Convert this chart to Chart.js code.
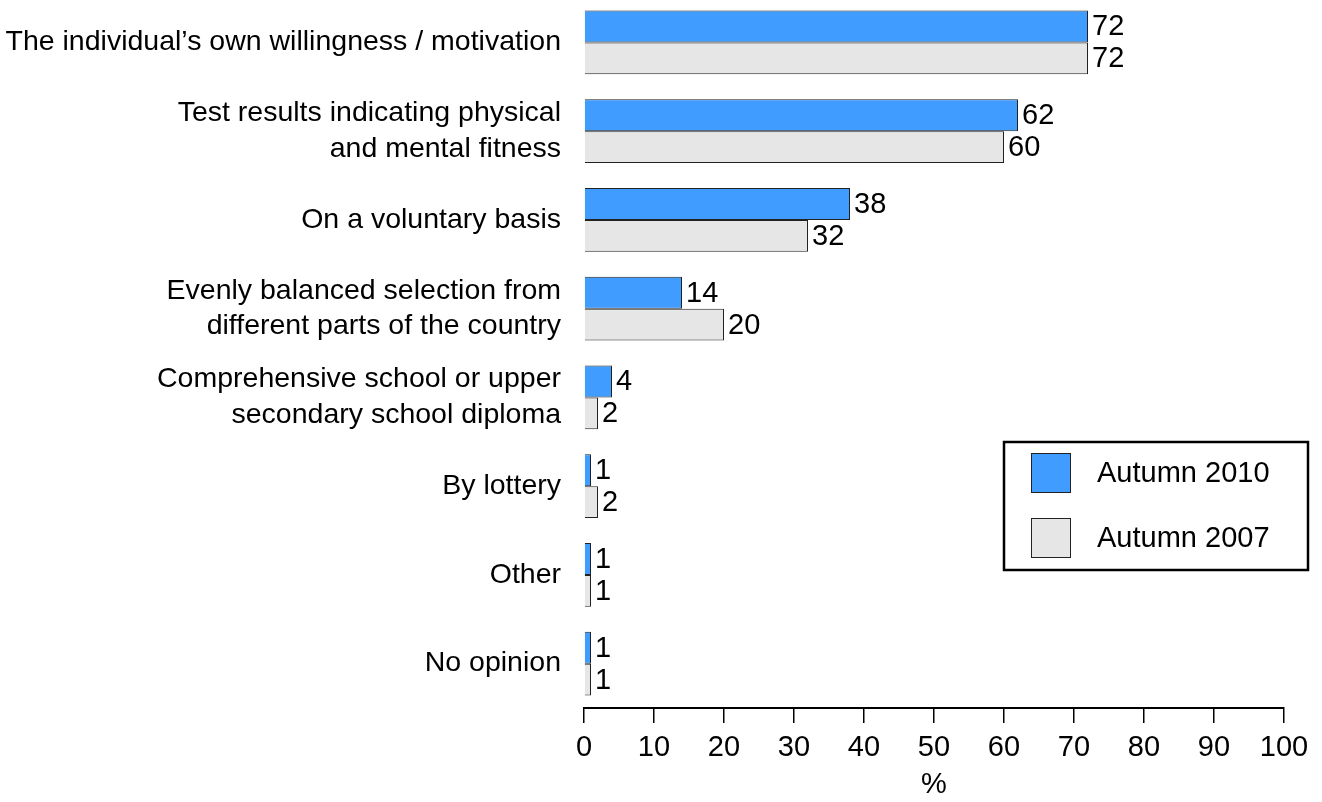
<!DOCTYPE html>
<html>
<head>
<meta charset="utf-8">
<script src="https://cdn.jsdelivr.net/npm/chart.js@4/dist/chart.umd.min.js"></script>
<style>
  html, body { margin: 0; padding: 0; background: #fff; overflow: hidden; }
  #wrap { position: absolute; left: 0; top: -2px; width: 1322px; height: 804px; }
</style>
</head>
<body>
<div id="wrap"><canvas id="chart"></canvas></div>
<script>
const categories = [
  'The individual\u2019s own willingness / motivation',
  ['Test results indicating physical', 'and mental fitness'],
  'On a voluntary basis',
  ['Evenly balanced selection from', 'different parts of the country'],
  ['Comprehensive school or upper', 'secondary school diploma'],
  'By lottery',
  'Other',
  'No opinion',
];
const autumn2010 = [72, 62, 38, 14, 4, 1, 1, 1];
const autumn2007 = [72, 60, 32, 20, 2, 2, 1, 1];
const seriesNames = ['Autumn 2010', 'Autumn 2007'];
const xTicks = { min: 0, max: 100, step: 10 };

const FONT = 'Liberation Sans, Arial, sans-serif';

const valueLabels = {
  id: 'valueLabels',
  afterDatasetsDraw(chart) {
    const ctx = chart.ctx;
    ctx.save();
    ctx.font = '29px ' + FONT;
    ctx.fillStyle = '#000';
    ctx.textAlign = 'left';
    ctx.textBaseline = 'middle';
    chart.data.datasets.forEach((ds, i) => {
      chart.getDatasetMeta(i).data.forEach((bar, j) => {
        ctx.fillText(String(ds.data[j]), bar.x + 4, bar.y + 1);
      });
    });
    ctx.restore();
  }
};

const boxLegend = {
  id: 'boxLegend',
  afterDraw(chart) {
    const ctx = chart.ctx;
    ctx.save();
    ctx.lineWidth = 2.5;
    ctx.strokeStyle = '#000';
    ctx.strokeRect(1004, 444, 304, 128);
    ctx.font = '29px ' + FONT;
    ctx.textAlign = 'left';
    ctx.textBaseline = 'middle';
    chart.data.datasets.forEach((ds, i) => {
      const y = 455 + i * 65;
      ctx.fillStyle = ds.backgroundColor;
      ctx.fillRect(1031, y, 40, 40);
      ctx.lineWidth = 1;
      ctx.strokeStyle = '#222';
      ctx.strokeRect(1031.5, y + 0.5, 39, 39);
      ctx.fillStyle = '#000';
      ctx.fillText(ds.label, 1097, y + 21);
    });
    ctx.restore();
  }
};

new Chart(document.getElementById('chart'), {
  type: 'bar',
  data: {
    labels: categories,
    datasets: [
      {
        label: seriesNames[0],
        data: autumn2010,
        backgroundColor: '#409dff',
        borderColor: '#222',
        borderWidth: 1,
      },
      {
        label: seriesNames[1],
        data: autumn2007,
        backgroundColor: '#e6e6e6',
        borderColor: '#222',
        borderWidth: 1,
      },
    ],
  },
  options: {
    indexAxis: 'y',
    responsive: true,
    maintainAspectRatio: false,
    devicePixelRatio: 1,
    animation: false,
    categoryPercentage: 0.72,
    barPercentage: 1,
    layout: { padding: { left: 0, right: 38, top: 0, bottom: 0 } },
    scales: {
      x: {
        min: xTicks.min,
        max: xTicks.max,
        afterFit: (s) => { s.height = 94; },
        grid: {
          drawOnChartArea: false,
          tickLength: 15,
          color: '#000',
          lineWidth: 1.5,
        },
        border: { display: true, color: '#000', width: 2 },
        ticks: {
          stepSize: xTicks.step,
          color: '#000',
          padding: 8,
          maxRotation: 0,
          font: { family: FONT, size: 29 },
        },
        title: {
          display: true,
          text: '%',
          color: '#000',
          padding: { top: 0, bottom: 0 },
          font: { family: FONT, size: 29 },
        },
      },
      y: {
        afterFit: (s) => { s.width = 584; s.paddingTop = 0; s.paddingBottom = 0; },
        grid: { display: false, drawTicks: false },
        border: { display: false },
        ticks: {
          color: '#000',
          padding: 23,
          font: { family: FONT, size: 28.5, lineHeight: 1.26 },
        },
      },
    },
    plugins: {
      legend: { display: false },
      tooltip: { enabled: false },
    },
  },
  plugins: [valueLabels, boxLegend],
});
</script>
</body>
</html>
